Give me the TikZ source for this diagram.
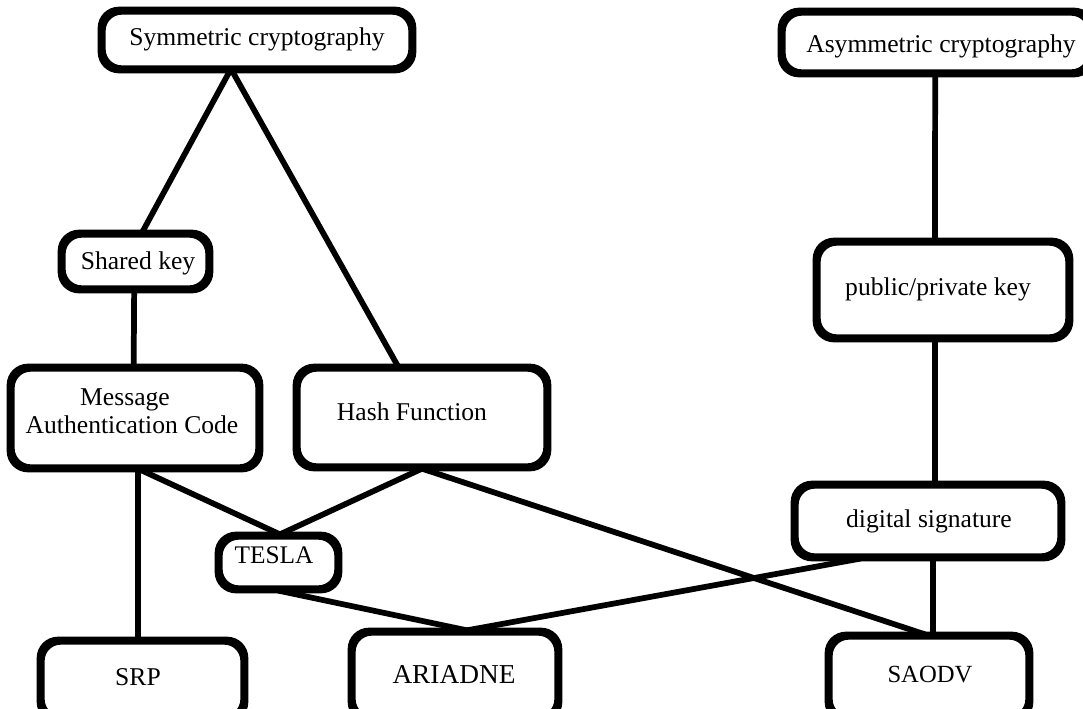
\documentclass[tikz,border=0pt]{standalone}
\usepackage{fontspec}
\setmainfont{Liberation Serif}
\usetikzlibrary{calc}
\begin{document}
\begin{tikzpicture}[x=0.75pt,y=-0.75pt,
  box/.style={draw=black,line width=4pt,rounded corners=14pt,fill=white,
    inner sep=0pt,minimum width=#1},
  lbl/.style={anchor=base,inner sep=0pt,font=\fontsize{19.2pt}{23pt}\selectfont},
  link/.style={line width=4.3pt,line cap=round}]
\clip (0,0) rectangle (1083,708);
\fill[white] (0,0) rectangle (1083,708);

% boxes
\node[box=231pt,minimum height=42pt] (sym) at (257,40) {};
\node[box=230.25pt,minimum height=44.25pt] (asym) at (936.5,42.5) {};
\node[box=108.75pt,minimum height=39.75pt] (shared) at (135.5,261.5) {};
\node[box=184.5pt,minimum height=73.5pt] (mac) at (135,418) {};
\node[box=186pt,minimum height=72.75pt] (hash) at (422,417.5) {};
\node[box=187.5pt,minimum height=70.5pt] (pub) at (943,290) {};
\node[box=198pt,minimum height=52.5pt] (dsig) at (928,521) {};
\node[box=87.75pt,minimum height=38.25pt] (tesla) at (278.5,562.5) {};
\node[box=150.75pt,minimum height=57pt] (srp) at (142.5,680) {};
\node[box=153pt,minimum height=63.75pt] (ariadne) at (455,675.5) {};
\node[box=148.5pt,minimum height=60.75pt] (saodv) at (929,677.5) {};

% connectors
\begin{scope}[link]
\draw ([xshift=-20.25pt]sym.south) -- ([xshift=5pt]shared.north);
\draw ([xshift=-18.75pt]sym.south) -- ([xshift=-18pt]hash.north);
\draw ([xshift=-1pt]shared.south) -- ([xshift=-1pt]mac.north);
\draw ([xshift=3.75pt]mac.south) -- ([xshift=1.1pt]tesla.north);
\draw (hash.south) -- ([xshift=1.1pt]tesla.north);
\draw ([xshift=2.25pt]mac.south) -- ([xshift=-3.4pt]srp.north);
\draw (hash.south) -- ([xshift=-3pt]saodv.north);
\draw ([xshift=0pt]tesla.south) -- ([xshift=9pt]ariadne.north);
\draw ([xshift=-51pt]dsig.south) -- ([xshift=9pt]ariadne.north);
\draw ([xshift=3.75pt]dsig.south) -- ([xshift=3pt]saodv.north);
\draw ([xshift=-6pt]pub.south) -- ([xshift=5.25pt]dsig.north);
\draw ([xshift=-1pt]asym.south) -- ([xshift=-6pt]pub.north);
\end{scope}

% box outlines again, over the connector ends
\foreach \n in {sym,asym,shared,mac,hash,pub,dsig,tesla,srp,ariadne,saodv}
  \draw[line width=4pt,rounded corners=14pt]
    (\n.south west) rectangle (\n.north east);

% labels
\node[lbl] (tsym) at (257,45) {Symmetric cryptography};
\node[lbl] (tasym) at (941,52) {Asymmetric cryptography};
\node[lbl] (tshared) at (138,269) {Shared key};
\node[lbl] (tmac1) at (125,405) {Message};
\node[lbl] (tmac2) at (132,433) {Authentication Code};
\node[lbl] (thash) at (412,420) {Hash Function};
\node[lbl] (tpub) at (938,295) {public/private key};
\node[lbl] (tdsig) at (929,527) {digital signature};
\node[lbl,font=\fontsize{19pt}{23pt}\selectfont] (ttesla) at (274,563) {TESLA};
\node[lbl] (tsrp) at (138,685) {SRP};
\node[lbl,font=\fontsize{20.5pt}{24pt}\selectfont] (tariadne) at (454,683) {ARIADNE};
\node[lbl,font=\fontsize{18.5pt}{22pt}\selectfont] (tsaodv) at (930,682) {SAODV};
\end{tikzpicture}
\end{document}
